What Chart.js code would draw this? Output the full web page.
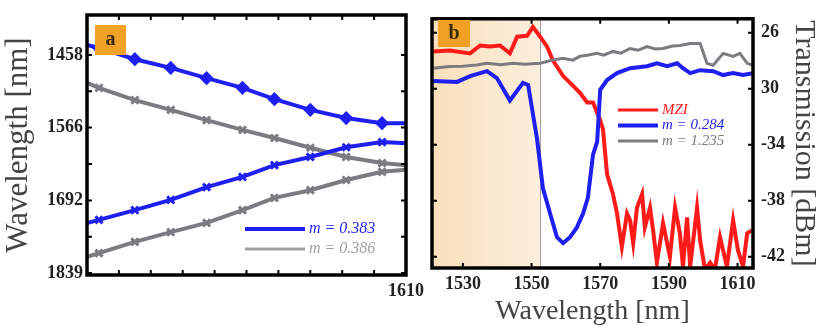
<html lang="en">
<head>
<meta charset="UTF-8">
<title>Wavelength tuning and transmission</title>
<script src="https://cdn.jsdelivr.net/npm/chart.js"></script>
<style>
  body { margin: 0; background: #fff; }
  #wrap { position: relative; width: 822px; height: 328px; }
  canvas { position: absolute; top: 0; }
  #tuning { left: 0; }
  #spectrum { left: 420px; }
</style>
</head>
<body>
<div id="wrap">
  <canvas id="tuning" width="430" height="328"></canvas>
  <canvas id="spectrum" width="402" height="328"></canvas>
</div>
<script>
// panel a: tuning curves, x in nm, y in THz (labelled with wavelength)
const tuneNm = [1530, 1533, 1542, 1551, 1560, 1569, 1577, 1586, 1595, 1604, 1610];
const upperBlue = [207.6, 207.0, 204.8, 203.1, 201.1, 199.2, 197.0, 194.9, 193.3, 192.3, 192.3];
const upperGrey = [200.2, 199.2, 196.8, 194.9, 192.9, 191.0, 189.4, 187.5, 185.7, 184.5, 184.1];
const lowerBlue = [172.8, 173.4, 175.3, 177.3, 179.8, 181.8, 184.1, 185.7, 187.6, 188.6, 188.4];
const lowerGrey = [166.2, 166.9, 169.1, 171.0, 172.8, 175.3, 177.7, 179.2, 181.2, 182.8, 183.2];
const freqTickNm = [1839, 1692, 1566, 1458];
const legendA = ['m = 0.383', 'm = 0.386'];

// panel b: transmission spectra
const redNm = [1521.3, 1526.2, 1532.1, 1535.0, 1537.9, 1540.8, 1543.7, 1545.8, 1548.7, 1550.4, 1552.5, 1554.5, 1556.2, 1559.2, 1562.1, 1564.1, 1566.2, 1567.9, 1569.9, 1570.8, 1572.0, 1573.7, 1574.9, 1576.3, 1577.8, 1578.7, 1579.6, 1580.7, 1582.2, 1583.0, 1584.5, 1585.4, 1586.5, 1588.3, 1590.3, 1591.8, 1593.2, 1594.1, 1595.3, 1596.2, 1598.2, 1599.1, 1600.5, 1602.0, 1603.4, 1604.9, 1606.9, 1608.7, 1610.1, 1611.6, 1612.8, 1614.2];
const redDbm = [-27.33, -27.26, -27.47, -26.91, -26.98, -26.91, -27.47, -26.28, -26.21, -25.58, -26.28, -26.98, -27.97, -29.09, -29.79, -30.28, -30.98, -30.98, -32.18, -32.88, -36.11, -37.51, -38.91, -41.30, -38.91, -39.40, -41.02, -38.49, -37.51, -39.90, -38.49, -40.11, -42.42, -39.61, -42.0, -38.49, -40.32, -42.70, -39.19, -42.70, -38.49, -40.81, -42.91, -42.42, -42.91, -40.60, -42.70, -39.40, -41.51, -42.70, -40.32, -40.11];
const blueNm = [1521.3, 1528.3, 1532.1, 1537.0, 1539.9, 1543.7, 1547.5, 1549.0, 1551.6, 1553.3, 1555.4, 1557.4, 1559.2, 1561.2, 1563.2, 1565.0, 1566.4, 1567.9, 1569.1, 1570.0, 1572.0, 1574.9, 1578.7, 1583.6, 1586.5, 1589.5, 1592.4, 1594.1, 1596.2, 1599.1, 1602.9, 1605.8, 1608.7, 1611.6, 1614.5];
const blueDbm = [-29.44, -29.51, -29.09, -28.74, -29.23, -30.84, -29.58, -29.72, -33.58, -37.09, -38.91, -40.60, -41.02, -40.60, -39.90, -38.91, -37.79, -34.70, -33.79, -30.07, -29.37, -28.88, -28.53, -28.39, -28.18, -28.39, -28.18, -28.53, -28.88, -28.67, -28.74, -29.02, -28.88, -29.02, -28.88];
const greyNm = [1521.3, 1526, 1530.0, 1534, 1537.0, 1541, 1544.6, 1548, 1552.5, 1556, 1559.2, 1562, 1564.1, 1566.2, 1569.1, 1571, 1573.7, 1576, 1578.7, 1581, 1583.6, 1586, 1588.3, 1591, 1593.2, 1596.2, 1599.1, 1601.1, 1602.9, 1605.8, 1608.7, 1610.7, 1612.8, 1614.5];
const greyDbm = [-28.53, -28.40, -28.39, -28.30, -28.18, -28.28, -28.18, -28.25, -28.18, -27.95, -27.82, -27.95, -27.68, -27.61, -27.47, -27.60, -27.33, -27.45, -27.12, -27.25, -26.98, -27.15, -27.12, -26.95, -26.91, -26.77, -26.77, -28.18, -28.32, -27.47, -27.68, -27.47, -28.18, -28.32];
const dbmTicks = [-26, -30, -34, -38, -42];
const dbmLabels = ['26', '30', '-34', '-38', '-42'];
const nmTicksB = [1530, 1550, 1570, 1590, 1610];
const pumpBand = [1521, 1552.5];
const legendB = ['MZI', 'm = 0.284', 'm = 1.235'];

const BLUE = '#1f1ff2', GREY = '#7c7c80', RED = '#ff1a1a';
const SERIF = '"Liberation Serif", "DejaVu Serif", serif';
const C_NM_THZ = 299792.458;

Chart.defaults.font.family = SERIF;
Chart.defaults.color = '#222';

const xy = (xs, ys) => xs.map((x, i) => ({ x: x, y: ys[i] }));

// frame, inward ticks, shaded band, panel tag and legend
const panelDeco = {
  id: 'panelDeco',
  beforeDatasetsDraw(chart, args, o) {
    if (!o.band) return;
    const { ctx, chartArea: a, scales } = chart;
    const x1 = Math.round(scales.x.getPixelForValue(o.band[1]));
    const g = ctx.createLinearGradient(a.left, 0, x1, 0);
    g.addColorStop(0, '#f8e0bb');
    g.addColorStop(1, '#fcefdd');
    ctx.save();
    ctx.fillStyle = g;
    ctx.fillRect(a.left, a.top, x1 - a.left, a.bottom - a.top);
    ctx.strokeStyle = '#a0a0a0';
    ctx.lineWidth = 1;
    ctx.beginPath();
    ctx.moveTo(x1 + 0.5, a.top);
    ctx.lineTo(x1 + 0.5, a.bottom);
    ctx.stroke();
    ctx.restore();
  },
  afterDraw(chart, args, o) {
    const { ctx, chartArea: a, scales } = chart;
    ctx.save();
    ctx.strokeStyle = '#000';
    ctx.lineWidth = 2;
    scales.x.ticks.forEach(t => {
      const px = scales.x.getPixelForValue(t.value);
      ctx.beginPath();
      ctx.moveTo(px, a.bottom); ctx.lineTo(px, a.bottom - 5);
      ctx.moveTo(px, a.top); ctx.lineTo(px, a.top + 5);
      ctx.stroke();
    });
    const ys = scales.y.ticks.map(t => scales.y.getPixelForValue(t.value));
    const marks = ys.slice();
    if (o.halfTicks) {
      for (let i = 1; i < ys.length; i++) marks.push((ys[i] + ys[i - 1]) / 2);
    }
    marks.forEach(py => {
      ctx.beginPath();
      ctx.moveTo(a.left, py); ctx.lineTo(a.left + 5, py);
      ctx.moveTo(a.right, py); ctx.lineTo(a.right - 5, py);
      ctx.stroke();
    });
    ctx.lineWidth = 3.5;
    ctx.strokeRect(a.left, a.top, a.right - a.left, a.bottom - a.top);

    // panel tag
    const tg = o.tag;
    ctx.fillStyle = '#f0a126';
    ctx.fillRect(tg.x, tg.y, tg.w, tg.h);
    ctx.fillStyle = '#3a2a10';
    ctx.font = 'bold 20px ' + SERIF;
    ctx.textAlign = 'center';
    ctx.textBaseline = 'middle';
    ctx.fillText(tg.text, tg.x + tg.w / 2, tg.y + tg.h / 2);

    // legend
    const lg = o.legend;
    ctx.textAlign = 'left';
    ctx.font = 'italic ' + lg.size + 'px ' + SERIF;
    lg.rows.forEach((r, i) => {
      const y = lg.y + i * lg.step;
      ctx.strokeStyle = r.color;
      ctx.lineWidth = r.width;
      ctx.beginPath();
      ctx.moveTo(lg.x, y); ctx.lineTo(lg.x + lg.len, y);
      ctx.stroke();
      ctx.fillStyle = r.color;
      ctx.fillText(r.text, lg.x + lg.len + 4, y);
    });
    ctx.restore();
  }
};

const lastIdx = tuneNm.length - 1;
const markerRadius = ctx => (ctx.dataIndex === 0 || ctx.dataIndex === lastIdx) ? 0 : 5;

function tuneSet(data, color, style) {
  return {
    data: xy(tuneNm, data),
    borderColor: color,
    backgroundColor: color,
    borderWidth: 4,
    pointStyle: style,
    pointRadius: markerRadius,
    pointBorderWidth: 3,
    tension: 0
  };
}

new Chart(document.getElementById('tuning'), {
  type: 'line',
  data: {
    datasets: [
      tuneSet(upperBlue, BLUE, 'rectRot'),
      tuneSet(lowerBlue, BLUE, 'crossRot'),
      tuneSet(upperGrey, GREY, 'crossRot'),
      tuneSet(lowerGrey, GREY, 'crossRot')
    ]
  },
  options: {
    responsive: false,
    animation: false,
    devicePixelRatio: 1,
    layout: { padding: { top: 15, right: 20, left: 0, bottom: 0 } },
    plugins: {
      legend: { display: false },
      tooltip: { enabled: false },
      panelDeco: {
        halfTicks: true,
        tag: { x: 95, y: 25, w: 31, h: 30, text: 'a' },
        legend: {
          x: 245, y: 229, step: 20, len: 60, size: 16,
          rows: [
            { color: BLUE, width: 4, text: legendA[0] },
            { color: '#a0a0a4', width: 3, text: legendA[1] }
          ]
        }
      }
    },
    scales: {
      x: {
        type: 'linear',
        min: 1530, max: 1610,
        grid: { display: false, drawTicks: false },
        border: { display: false },
        ticks: {
          stepSize: 8,
          autoSkip: false,
          maxRotation: 0,
          padding: 6,
          font: { size: 18, weight: 'bold' },
          callback: v => v === 1610 ? '1610' : ''
        },
        afterFit: s => { s.height = 53; }
      },
      y: {
        type: 'linear',
        min: 162.63, max: 213.44,
        grid: { display: false, drawTicks: false },
        border: { display: false },
        afterBuildTicks: s => { s.ticks = freqTickNm.map(nm => ({ value: C_NM_THZ / nm })); },
        ticks: {
          padding: 4,
          font: { size: 18, weight: 'bold' },
          callback: v => String(Math.round(C_NM_THZ / v))
        },
        title: {
          display: true,
          text: 'Wavelength [nm]',
          color: '#444',
          font: { size: 31 },
          padding: { top: 0, bottom: 0 }
        },
        afterFit: s => { s.width = 87; }
      }
    }
  },
  plugins: [panelDeco]
});

function specSet(xs, ys, color, w) {
  return {
    data: xy(xs, ys),
    borderColor: color,
    borderWidth: w,
    pointRadius: 0,
    tension: 0
  };
}

new Chart(document.getElementById('spectrum'), {
  type: 'line',
  data: {
    datasets: [
      specSet(greyNm, greyDbm, GREY, 3),
      specSet(blueNm, blueDbm, BLUE, 4),
      specSet(redNm, redDbm, RED, 4)
    ]
  },
  options: {
    responsive: false,
    animation: false,
    devicePixelRatio: 1,
    layout: { padding: { top: 14, right: 0, left: 12, bottom: 0 } },
    plugins: {
      legend: { display: false },
      tooltip: { enabled: false },
      panelDeco: {
        band: pumpBand,
        tag: { x: 18, y: 20, w: 32, h: 27, text: 'b' },
        legend: {
          x: 198, y: 110, step: 15.5, len: 40, size: 15,
          rows: [
            { color: RED, width: 3, text: legendB[0] },
            { color: BLUE, width: 4, text: legendB[1] },
            { color: GREY, width: 3, text: legendB[2] }
          ]
        }
      }
    },
    scales: {
      x: {
        type: 'linear',
        min: 1521, max: 1614.5,
        grid: { display: false, drawTicks: false },
        border: { display: false },
        afterBuildTicks: s => { s.ticks = nmTicksB.map(v => ({ value: v })); },
        ticks: {
          maxRotation: 0,
          padding: 6,
          font: { size: 18, weight: 'bold' },
          callback: v => String(v)
        },
        title: {
          display: true,
          text: 'Wavelength [nm]',
          color: '#444',
          font: { size: 28 },
          padding: { top: 0, bottom: 0 }
        },
        afterFit: s => { s.height = 60; }
      },
      y: {
        type: 'linear',
        position: 'right',
        min: -42.8, max: -25,
        grid: { display: false, drawTicks: false },
        border: { display: false },
        afterBuildTicks: s => { s.ticks = dbmTicks.map(v => ({ value: v })); },
        ticks: {
          padding: 8,
          font: { size: 18, weight: 'bold' },
          callback: v => dbmLabels[dbmTicks.indexOf(v)]
        },
        title: {
          display: true,
          text: 'Transmission [dBm]',
          color: '#444',
          font: { size: 30 },
          padding: { top: 0, bottom: 0 }
        },
        afterFit: s => { s.width = 69; }
      }
    }
  },
  plugins: [panelDeco]
});
</script>
</body>
</html>
